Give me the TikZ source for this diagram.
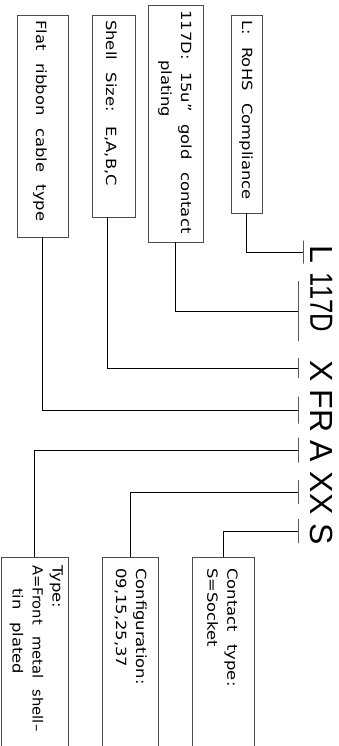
\documentclass[tikz,border=0pt]{standalone}
\usepackage{fontspec}
\newfontfamily\boitefont[FakeStretch=1.17,WordSpace=2.4]{DejaVu Sans}
\newfontfamily\codefont{Liberation Sans}
\usetikzlibrary{positioning}

\begin{document}
\begin{tikzpicture}[x=1pt, y=-1pt,
    boite/.style={draw=black!70, line width=0.9pt, inner sep=0pt},
    texte/.style={rotate=-90, anchor=north west, inner sep=0pt, align=left, font=\boitefont\fontsize{14}{20}\selectfont},
    code/.style={rotate=-90, inner sep=0pt, font=\codefont\fontsize{32}{32}\selectfont},
    trait/.style={draw, line width=0.9pt, minimum width=0pt, inner sep=0pt},
    lien/.style={line width=0.9pt}]
        \clip (0,0) rectangle (339,746);

        % Boites du haut
        \node[boite, minimum width=51pt, minimum height=222pt] (cable) at (42.5,126) {};
        \node[boite, minimum width=43pt, minimum height=202pt] (taille) at (113.5,116) {};
        \node[boite, minimum width=55pt, minimum height=237pt] (dorure) at (175.5,123.5) {};
        \node[boite, minimum width=31pt, minimum height=198pt] (rohs) at (246.5,114) {};
        \node[texte] (tcable) at (47,20) {Flat ribbon cable type};
        \node[texte] (ttaille) at (117,20) {Shell Size: E,A,B,C};
        \node[texte] (tdorure) at (192,10) {117D: 15u” gold contact\\\hspace*{50pt}plating};
        \node[texte] (trohs) at (253,20) {L: RoHS Compliance};

        % Boites du bas (ouvertes en bas)
        \node[boite, minimum width=67pt, minimum height=200pt] (type) at (34.5,657) {};
        \node[boite, minimum width=56pt, minimum height=200pt] (config) at (130,657) {};
        \node[boite, minimum width=62pt, minimum height=200pt] (contact) at (223,657) {};
        \node[texte] (ttype) at (63,565) {Type:\\\scalebox{0.9}[1]{A=Front metal shell–}\\\hspace*{23pt}tin plated};
        \node[texte] (tconfig) at (147,568) {Configuration:\\09,15,25,37};
        \node[texte] (tcontact) at (238,568) {Contact type:\\S=Socket};

        % Reference
        \node[code] (cL) at (321.5,254) {L};
        \node[code] (c117D) at (321.5,302.5) {\scalebox{0.8}[1]{117D}};
        \node[code] (cX) at (321.5,371) {X};
        \node[code] (cFR) at (321.5,411) {FR};
        \node[code] (cA) at (321.5,451) {A};
        \node[code] (cXX) at (321.5,493) {XX};
        \node[code] (cS) at (321.5,534) {S};

        % Traits sous chaque champ
        \node[trait, minimum height=23pt] (tL) at (303,252) {};
        \node[trait, minimum height=60pt] (t117D) at (298,311) {};
        \node[trait, minimum height=20pt] (tX) at (298,368) {};
        \node[trait, minimum height=27pt] (tFR) at (298,410) {};
        \node[trait, minimum height=25pt] (tA) at (298,450) {};
        \node[trait, minimum height=24pt] (tXX) at (298,492) {};
        \node[trait, minimum height=24pt] (tS) at (298,531) {};

        % Liaisons
        \draw[lien] (rohs.south) |- (tL);
        \draw[lien] (dorure.south) |- (t117D);
        \draw[lien] ([xshift=-6.5pt]taille.south) |- (tX);
        \draw[lien] (cable.south) |- (tFR);
        \draw[lien] (type.north) |- (tA);
        \draw[lien] (config.north) |- (tXX);
        \draw[lien] (contact.north) |- (tS);
    \end{tikzpicture}
\end{document}
